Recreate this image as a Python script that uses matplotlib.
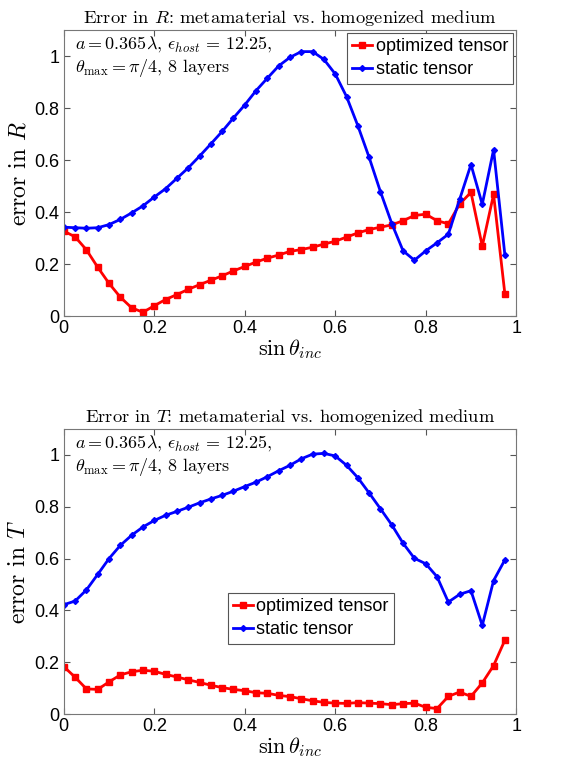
import numpy as np
import matplotlib
matplotlib.use('Agg')
import matplotlib.pyplot as plt

plt.rcParams['font.family'] = ['Liberation Sans', 'DejaVu Sans']
plt.rcParams['mathtext.fontset'] = 'cm'

# Углы падения
sin_inc = np.arange(40) * 0.025

# Ошибка в R
r_opt = [0.327, 0.305, 0.255, 0.188, 0.126, 0.073, 0.032, 0.015, 0.040, 0.064,
         0.083, 0.103, 0.121, 0.138, 0.155, 0.174, 0.191, 0.208, 0.223, 0.235,
         0.249, 0.256, 0.265, 0.277, 0.288, 0.304, 0.320, 0.333, 0.342, 0.351,
         0.367, 0.387, 0.392, 0.367, 0.355, 0.431, 0.476, 0.269, 0.468, 0.085]
r_static = [0.342, 0.340, 0.338, 0.340, 0.352, 0.372, 0.397, 0.424, 0.458, 0.490,
            0.530, 0.570, 0.615, 0.662, 0.710, 0.762, 0.812, 0.867, 0.915, 0.962,
            0.995, 1.017, 1.017, 0.987, 0.931, 0.844, 0.732, 0.610, 0.478, 0.356,
            0.251, 0.215, 0.251, 0.282, 0.315, 0.449, 0.583, 0.430, 0.640, 0.235]

# Ошибка в T
t_opt = [0.183, 0.142, 0.097, 0.095, 0.124, 0.151, 0.163, 0.169, 0.165, 0.153,
         0.143, 0.132, 0.122, 0.111, 0.102, 0.095, 0.090, 0.082, 0.080, 0.072,
         0.067, 0.059, 0.051, 0.045, 0.042, 0.041, 0.044, 0.042, 0.040, 0.036,
         0.040, 0.042, 0.026, 0.021, 0.068, 0.085, 0.068, 0.120, 0.187, 0.285]
t_static = [0.422, 0.436, 0.479, 0.539, 0.600, 0.651, 0.690, 0.722, 0.747, 0.767,
            0.782, 0.798, 0.815, 0.830, 0.844, 0.860, 0.878, 0.895, 0.916, 0.939,
            0.960, 0.985, 1.003, 1.006, 0.996, 0.960, 0.912, 0.853, 0.792, 0.730,
            0.659, 0.601, 0.580, 0.530, 0.432, 0.462, 0.476, 0.342, 0.515, 0.595]

serif = 'cmr10'
note = ('$a = 0.365\\lambda$, $\\epsilon_{host}\\, = \\,12.25$,\n'
        '$\\theta_{\\max} = \\pi/4$, 8 layers')

fig = plt.figure(figsize=(5.8, 7.6), dpi=100)
ax1 = fig.add_axes([0.110, 0.584, 0.780, 0.3765])
ax2 = fig.add_axes([0.110, 0.0605, 0.780, 0.375])


def draw(ax, opt, static, name, legend_kw):
    ax.plot(sin_inc, opt, '-s', color='#ff0000', lw=2, ms=4, mew=1,
            mfc='#ff0000', label='optimized tensor')
    ax.plot(sin_inc, static, '-D', color='#0000ff', lw=2, ms=3, mew=1,
            label='static tensor')
    ax.set_xlim(0, 1)
    ax.set_ylim(0, 1.1)
    ax.set_xticks([0, 0.2, 0.4, 0.6, 0.8, 1])
    ax.set_xticklabels(['0', '0.2', '0.4', '0.6', '0.8', '1'])
    ax.set_yticks([0, 0.2, 0.4, 0.6, 0.8, 1])
    ax.set_yticklabels(['0', '0.2', '0.4', '0.6', '0.8', '1'])
    ax.tick_params(direction='in', top=True, right=True, labelsize=13,
                   length=4, color='#555555', pad=3)
    for s in ax.spines.values():
        s.set_color('#777777')
    ax.set_title('Error in $' + name + '$: metamaterial vs. homogenized medium',
                 family=serif, fontsize=13.3, pad=5)
    ax.set_xlabel('$\\sin\\theta_{inc}$', fontsize=16, labelpad=0)
    ax.set_ylabel('error in $' + name + '$', family=serif, fontsize=17,
                  labelpad=3)
    ax.text(0.025, 0.985, note, transform=ax.transAxes, family=serif,
            fontsize=13, va='top', ha='left', linespacing=1.2)
    leg = ax.legend(fontsize=13, fancybox=False, framealpha=1,
                    handlelength=1.1, handletextpad=0.2, borderpad=0.3,
                    labelspacing=0.35, **legend_kw)
    leg.get_frame().set_edgecolor('#555555')
    leg.get_frame().set_linewidth(0.8)


draw(ax1, r_opt, r_static, 'R', dict(loc='upper right', borderaxespad=0.15))
draw(ax2, t_opt, t_static, 'T',
     dict(loc='lower left', bbox_to_anchor=(0.362, 0.246), borderaxespad=0))

fig.savefig('out.png', dpi=100)
